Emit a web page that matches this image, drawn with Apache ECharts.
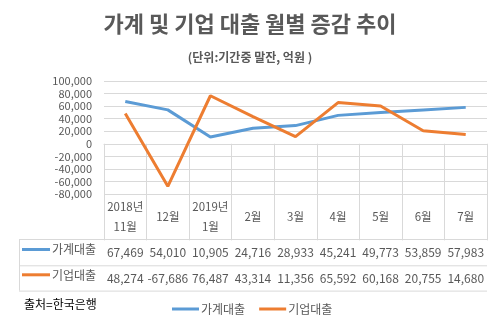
<!DOCTYPE html>
<html>
<head>
<meta charset="utf-8">
<script src="https://cdn.jsdelivr.net/npm/echarts@6/dist/echarts.min.js"></script>
<style>
  html, body { margin: 0; padding: 0; background: #fff; }
  #chart { width: 500px; height: 326px; }
</style>
</head>
<body>
<div id="chart"></div>
<script>
// Monthly change in household and corporate loans (KRW 100 million)
const categories = ['2018년\n11월', '12월', '2019년\n1월', '2월', '3월', '4월', '5월', '6월', '7월'];
const householdLoans = [67469, 54010, 10905, 24716, 28933, 45241, 49773, 53859, 57983];
const corporateLoans = [48274, -67686, 76487, 43314, 11356, 65592, 60168, 20755, 14680];
const seriesNames = ['가계대출', '기업대출'];
const yTicks = { min: -80000, max: 100000, step: 20000 };

const FONT = '"Noto Sans CJK KR", "Noto Sans", sans-serif';
const TEXT = '#595959';
const GRID = '#D9D9D9';
const BLUE = '#5B9BD5';
const ORANGE = '#ED7D31';

function fmt(v) {
  const s = String(Math.abs(v)).replace(/\B(?=(\d{3})+(?!\d))/g, ',');
  return (v < 0 ? '-' : '') + s;
}

// table geometry (rows below the plot)
const plotLeft = 104, plotRight = 13, plotTop = 81, plotBottom = 194;
const headerH = 45, rowH = 26.3;
const tableLeft = 19;
const row1Top = plotBottom + headerH;
const row2Top = row1Top + rowH;
const tableBottom = row2Top + rowH - 1;

const chart = echarts.init(document.getElementById('chart'), null, { renderer: 'canvas' });

const option = {
  animation: false,
  backgroundColor: '#fff',
  textStyle: { fontFamily: FONT },
  title: [
    {
      text: '가계 및 기업 대출 월별 증감 추이',
      left: 'center', top: 8,
      textStyle: { fontFamily: FONT, fontSize: 22, fontWeight: 'bold', color: TEXT }
    },
    {
      text: '(단위:기간중 말잔, 억원 )',
      left: 'center', top: 46,
      textStyle: { fontFamily: FONT, fontSize: 12, fontWeight: 'bold', color: TEXT }
    }
  ],
  grid: { left: plotLeft, right: plotRight, top: plotTop, bottom: 326 - plotBottom, containLabel: false },
  xAxis: [
    {
      type: 'category', data: categories, boundaryGap: true,
      axisLine: { show: true, lineStyle: { color: GRID, width: 1 } },
      axisTick: { show: true, length: tableBottom - plotBottom, lineStyle: { color: GRID } },
      axisLabel: {
        color: TEXT, fontFamily: FONT, fontSize: 11.5, lineHeight: 20,
        verticalAlign: 'middle', margin: headerH / 2, interval: 0
      },
      splitLine: { show: false }
    },
    {
      type: 'category', data: categories, position: 'bottom', offset: headerH,
      axisLine: { show: false }, axisTick: { show: false },
      axisLabel: {
        color: TEXT, fontFamily: FONT, fontSize: 12, verticalAlign: 'middle',
        margin: rowH / 2, interval: 0,
        formatter: (v, i) => fmt(householdLoans[i])
      }
    },
    {
      type: 'category', data: categories, position: 'bottom', offset: headerH + rowH,
      axisLine: { show: false }, axisTick: { show: false },
      axisLabel: {
        color: TEXT, fontFamily: FONT, fontSize: 12, verticalAlign: 'middle',
        margin: rowH / 2, interval: 0,
        formatter: (v, i) => fmt(corporateLoans[i])
      }
    }
  ],
  yAxis: {
    type: 'value', min: yTicks.min, max: yTicks.max, interval: yTicks.step,
    axisLine: { show: false }, axisTick: { show: false },
    axisLabel: { color: TEXT, fontFamily: FONT, fontSize: 11, margin: 12, formatter: v => fmt(v) },
    splitLine: { lineStyle: { color: GRID, width: 1 } }
  },
  legend: {
    data: seriesNames,
    left: 167, top: 298,
    itemWidth: 27, itemHeight: 3, itemGap: 14,
    icon: 'rect',
    textStyle: { color: TEXT, fontFamily: FONT, fontSize: 12, padding: [0, 0, 0, -3] }
  },
  series: [
    {
      name: seriesNames[0], type: 'line', data: householdLoans,
      symbol: 'none', lineStyle: { color: BLUE, width: 3 }, itemStyle: { color: BLUE }
    },
    {
      name: seriesNames[1], type: 'line', data: corporateLoans,
      symbol: 'none', lineStyle: { color: ORANGE, width: 3 }, itemStyle: { color: ORANGE }
    }
  ],
  graphic: [
    // row separators spanning the key column as well
    { type: 'line', shape: { x1: tableLeft, y1: row1Top + 0.5, x2: 500 - plotRight, y2: row1Top + 0.5 }, style: { stroke: GRID, lineWidth: 1 } },
    { type: 'line', shape: { x1: tableLeft, y1: row2Top + 0.5, x2: 500 - plotRight, y2: row2Top + 0.5 }, style: { stroke: GRID, lineWidth: 1 } },
    { type: 'line', shape: { x1: tableLeft, y1: tableBottom + 0.5, x2: 500 - plotRight, y2: tableBottom + 0.5 }, style: { stroke: GRID, lineWidth: 1 } },
    { type: 'line', shape: { x1: tableLeft + 0.5, y1: row1Top, x2: tableLeft + 0.5, y2: tableBottom }, style: { stroke: GRID, lineWidth: 1 } },
    // series keys inside the table
    { type: 'line', shape: { x1: 22, y1: row1Top + 10.5, x2: 50, y2: row1Top + 10.5 }, style: { stroke: BLUE, lineWidth: 3 } },
    { type: 'text', left: 52, top: row1Top + 4, style: { text: seriesNames[0], fill: TEXT, font: '12px ' + FONT } },
    { type: 'line', shape: { x1: 22, y1: row2Top + 9.5, x2: 50, y2: row2Top + 9.5 }, style: { stroke: ORANGE, lineWidth: 3 } },
    { type: 'text', left: 52, top: row2Top + 4, style: { text: seriesNames[1], fill: TEXT, font: '12px ' + FONT } },
    // source note
    { type: 'text', left: 24, top: 298, style: { text: '출처=한국은행', fill: '#000', font: '12px ' + FONT } }
  ]
};

chart.setOption(option);
</script>
</body>
</html>
